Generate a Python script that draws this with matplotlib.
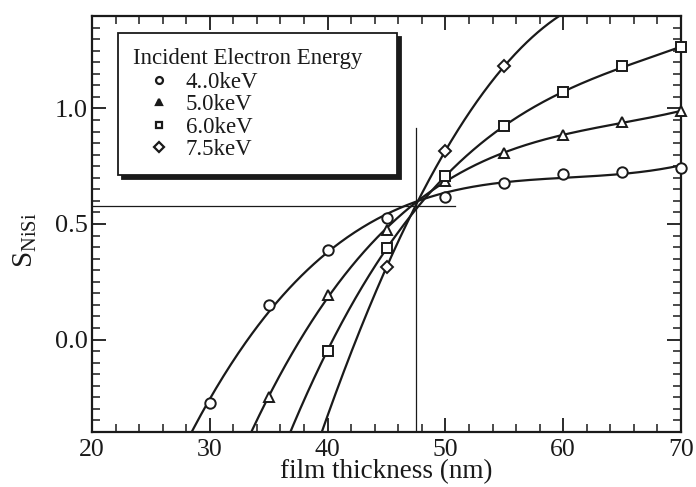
import numpy as np
import matplotlib
matplotlib.use("Agg")
import matplotlib.pyplot as plt
from matplotlib.lines import Line2D
from matplotlib.ticker import MultipleLocator

plt.rcParams['font.family'] = ['Liberation Serif', 'DejaVu Serif']
plt.rcParams['mathtext.fontset'] = 'custom'
plt.rcParams['mathtext.rm'] = 'Liberation Serif'

# Data
labels = ['4..0keV', '5.0keV', '6.0keV', '7.5keV']
markers = ['o', '^', 's', 'D']
x_40 = [30, 35, 40, 45, 50, 55, 60, 65, 70]
y_40 = [-0.274, 0.148, 0.387, 0.526, 0.617, 0.678, 0.717, 0.726, 0.744]
x_50 = [35, 40, 45, 50, 55, 60, 65, 70]
y_50 = [-0.25, 0.191, 0.474, 0.684, 0.808, 0.887, 0.940, 0.988]
x_60 = [40, 45, 50, 55, 60, 65, 70]
y_60 = [-0.048, 0.398, 0.706, 0.922, 1.07, 1.183, 1.265]
x_75 = [45, 50, 55]
y_75 = [0.313, 0.817, 1.183]
fit_deg = [3, 3, 3, 2]
curve_start = [28.0, 33.0, 36.5, 39.3]

cross_x = 47.5
cross_y = 0.578
cross_h_end = 50.8
cross_v_top = 0.917

series = [(x_40, y_40), (x_50, y_50), (x_60, y_60), (x_75, y_75)]

fig = plt.figure(figsize=(6.96, 4.87), dpi=100)
ax = fig.add_axes([92/696, 1-432/487, (681-92)/696, (432-16)/487])

for (xs, ys), m, d, x0 in zip(series, markers, fit_deg, curve_start):
    coef = np.polyfit(xs, ys, d)
    xx = np.linspace(x0, 70, 400)
    ax.plot(xx, np.polyval(coef, xx), color='#1a1a1a', lw=1.6, zorder=2)
    ms = 7.5 if m != 'D' else 6.5
    ax.plot(xs, ys, linestyle='none', marker=m, ms=ms, mfc='white',
            mec='#1a1a1a', mew=1.4, zorder=3, clip_on=False)

ax.plot([20, cross_h_end], [cross_y, cross_y], color='#1a1a1a', lw=0.9, zorder=1)
ax.plot([cross_x, cross_x], [-0.4, cross_v_top], color='#1a1a1a', lw=0.9, zorder=1)

ax.set_xlim(20, 70)
ax.set_ylim(-0.40, 1.40)
ax.set_xticks([20, 30, 40, 50, 60, 70])
ax.set_yticks([0.0, 0.5, 1.0])
ax.set_yticklabels(['0.0', '0.5', '1.0'])
ax.xaxis.set_minor_locator(MultipleLocator(2))
ax.yaxis.set_minor_locator(MultipleLocator(0.05))
ax.tick_params(which='both', direction='in', top=True, right=True,
               labelsize=19, color='#1a1a1a', labelcolor='#1a1a1a')
ax.tick_params(which='major', length=10, width=1.3)
ax.tick_params(axis='x', which='major', pad=5, labelsize=18.5)
ax.tick_params(axis='y', which='major', pad=3)
ax.tick_params(which='minor', length=5.5, width=1.1)
for s in ax.spines.values():
    s.set_linewidth(1.6)
    s.set_color('#1a1a1a')

ax.set_xlabel('film thickness (nm)', fontsize=19.5, color='#1a1a1a', labelpad=-1)
ax.set_ylabel(r'$\mathrm{S_{NiSi}}$', fontsize=21, color='#1a1a1a')
ax.yaxis.set_label_coords(-0.09, 0.46)

handles = [Line2D([], [], linestyle='none', marker=m, ms=5, mfc='white' if m != '^' else '#1a1a1a',
                  mec='#1a1a1a', mew=1.6) for m in markers]
leg = ax.legend(handles, labels, title='Incident Electron Energy',
                loc='upper left', bbox_to_anchor=(0.044, 0.62, 0.474, 0.339),
                mode='expand',
                fontsize=16.5, title_fontsize=16.5, alignment='left',
                frameon=True, fancybox=False, edgecolor='#1a1a1a',
                shadow={'color': '#1a1a1a', 'alpha': 1.0, 'ox': 3, 'oy': -3},
                handlelength=2.3, handletextpad=0.0, labelspacing=0.06,
                borderpad=0.65, borderaxespad=0, markerfirst=True)
leg.get_frame().set_linewidth(1.3)
leg.get_title().set_color('#1a1a1a')
for t in leg.get_texts():
    t.set_color('#1a1a1a')
leg._legend_box.sep = 2

fig.savefig('out.png', dpi=100)
